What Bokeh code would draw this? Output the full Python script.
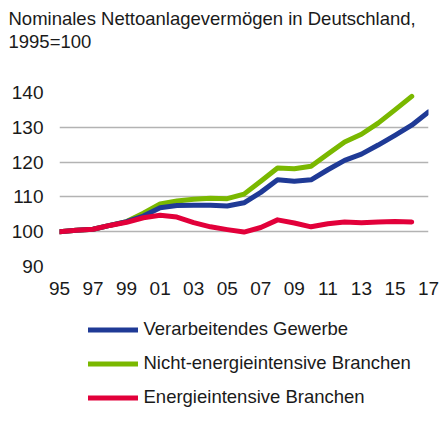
from bokeh.plotting import figure
from bokeh.models import Range1d, FixedTicker, Legend, LegendItem, Title
from bokeh.layouts import column
from bokeh.embed import file_html
from bokeh.resources import INLINE

# ---- data ----
years = list(range(1995, 2018))
verarbeitendes = [100.0, 100.4, 100.7, 101.8, 102.9, 104.5, 106.9, 107.5, 107.6, 107.6, 107.4, 108.3,
                  111.3, 114.9, 114.5, 114.9, 117.8, 120.5, 122.3, 124.9, 127.7, 130.6, 134.4]
nicht_energie = [100.0, 100.4, 100.7, 101.8, 102.9, 105.3, 108.0, 108.8, 109.3, 109.6, 109.5, 110.8,
                 114.5, 118.3, 118.1, 118.8, 122.3, 125.8, 128.0, 131.2, 135.0, 138.9]
energie = [100.0, 100.4, 100.7, 101.8, 102.7, 104.0, 104.7, 104.2, 102.6, 101.4, 100.6, 99.9,
           101.2, 103.4, 102.5, 101.4, 102.3, 102.8, 102.6, 102.8, 102.9, 102.8]

series_names = ["Verarbeitendes Gewerbe", "Nicht-energieintensive Branchen", "Energieintensive Branchen"]
series_colors = ["#1F3A96", "#7AB800", "#E2003A"]
series_values = [verarbeitendes, nicht_energie, energie]

x_ticks = [1995, 1997, 1999, 2001, 2003, 2005, 2007, 2009, 2011, 2013, 2015, 2017]
x_tick_labels = ["95", "97", "99", "01", "03", "05", "07", "09", "11", "13", "15", "17"]
y_ticks = [90, 100, 110, 120, 130, 140]

title_lines = ["Nominales Nettoanlagevermögen in Deutschland,", "1995=100"]

FONT = "Liberation Sans"
TEXT_COLOR = "#1a1a1a"
W = 446


def bare_figure(height, top=0, bottom=0, fill="white"):
    f = figure(width=W, height=height, output_backend="svg", toolbar_location=None,
               x_axis_type=None, y_axis_type=None,
               x_range=Range1d(0, 1), y_range=Range1d(0, 1),
               min_border_left=59, min_border_right=18,
               min_border_top=top, min_border_bottom=bottom,
               border_fill_color=fill, background_fill_color=fill)
    f.outline_line_color = None
    f.xgrid.visible = False
    f.ygrid.visible = False
    return f


# ---- thin grey rule at the very top ----
top_rule = bare_figure(2, fill="#7f7f7f")

# ---- title block: two lines stacked on a one-pixel frame ----
tt = bare_figure(50, top=49, bottom=0)
tt.add_layout(Title(text=title_lines[1], align="left", offset=-51, standoff=0,
                    text_font=FONT, text_font_size="18.5px", text_font_style="normal",
                    text_color=TEXT_COLOR), "above")
tt.add_layout(Title(text=title_lines[0], align="left", offset=-51, standoff=0,
                    text_font=FONT, text_font_size="18.5px", text_font_style="normal",
                    text_color=TEXT_COLOR), "above")

# ---- main chart ----
p = figure(width=W, height=253, output_backend="svg", toolbar_location=None,
           x_range=Range1d(years[0], years[-1]), y_range=Range1d(y_ticks[0], y_ticks[-1]),
           min_border_left=59, min_border_right=18, min_border_top=40, min_border_bottom=39)
p.outline_line_color = None
p.xgrid.visible = False
p.ygrid.grid_line_color = "#b3b3b3"
p.ygrid.grid_line_width = 1.5
p.ygrid.ticker = FixedTicker(ticks=y_ticks)

for ax in (p.xaxis[0], p.yaxis[0]):
    ax.axis_line_color = None
    ax.major_tick_line_color = None
    ax.minor_tick_line_color = None
    ax.major_tick_out = 0
    ax.major_tick_in = 0
    ax.minor_tick_out = 0
    ax.major_label_text_font = FONT
    ax.major_label_text_font_size = "19px"
    ax.major_label_text_color = TEXT_COLOR

p.xaxis.ticker = FixedTicker(ticks=x_ticks)
p.xaxis.major_label_overrides = {t_: lab for t_, lab in zip(x_ticks, x_tick_labels)}
p.xaxis.major_label_standoff = 15
p.yaxis.ticker = FixedTicker(ticks=y_ticks)
p.yaxis.major_label_standoff = 16

draw_order = [1, 0, 2]
for i in draw_order:
    vals = series_values[i]
    p.line(years[:len(vals)], vals, line_color=series_colors[i], line_width=5,
           line_join="round", line_cap="round")

# ---- legend block (own small figure; its series lie outside its view) ----
lg = bare_figure(116)
items = []
for name, col, vals in zip(series_names, series_colors, series_values):
    r = lg.line(years[:len(vals)], vals, line_color=col, line_width=5, line_cap="round")
    items.append(LegendItem(label=name, renderers=[r]))
legend = Legend(items=items, location=(28.5, 13), orientation="vertical",
                glyph_width=50, glyph_height=21, label_height=21, label_standoff=6,
                spacing=12, padding=0, margin=0,
                border_line_color=None, background_fill_alpha=0,
                label_text_font=FONT, label_text_font_size="18.5px", label_text_color=TEXT_COLOR)
lg.add_layout(legend, "center")

layout = column(top_rule, tt, p, lg, spacing=0)
open("out.html", "w").write(file_html(layout, INLINE))
